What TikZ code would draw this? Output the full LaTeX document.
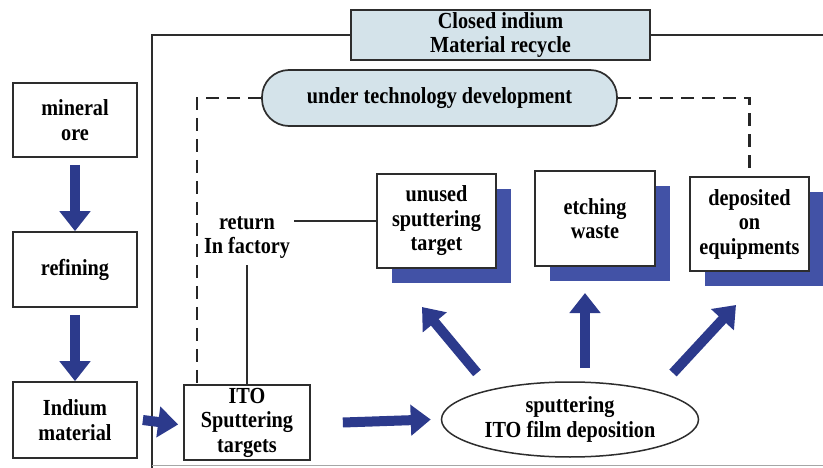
\documentclass[tikz,border=0pt]{standalone}
\usepackage{fontspec}
\setmainfont[FakeStretch=0.88]{Liberation Serif}
\usetikzlibrary{arrows.meta,shapes.geometric,shadows}
\definecolor{arrowblue}{RGB}{44,58,140}
\definecolor{shadowblue}{RGB}{66,82,166}
\definecolor{lightfill}{RGB}{212,227,234}
\definecolor{edge}{RGB}{45,45,45}
\tikzset{
  txt/.style={font=\bfseries\fontsize{23}{24.5}\selectfont, align=center, inner sep=0pt},
  box/.style={txt, draw=edge, line width=1.7pt, fill=white, rectangle},
  shbox/.style={box, general shadow={fill=shadowblue, shadow xshift=15pt, shadow yshift=-15pt}},
  fat/.style={line width=10pt, draw=arrowblue, -{Triangle[width=30pt,length=20pt]}},
  frame/.style={draw=edge, line width=1.8pt},
  dashline/.style={draw=black!85, line width=2.2pt, dash pattern=on 13pt off 8pt},
  thin/.style={draw=edge, line width=1.3pt}
}
\begin{document}
\begin{tikzpicture}[x=1pt,y=-1pt]
\useasboundingbox (0,0) rectangle (823,468);

% left column
\node[box, minimum width=124pt, minimum height=74pt] (ore) at (75,120) {mineral\\ore};
\node[box, minimum width=124pt, minimum height=75pt] (refine) at (75,269.5) {refining};
\node[box, minimum width=124pt, minimum height=76pt] (indium) at (75,420) {Indium\\material};

% frame
\node[box, fill=lightfill, minimum width=299pt, minimum height=50pt] (closed) at (500.5,35) {Closed indium\\Material recycle};
\coordinate (ftl) at (152,35);
\coordinate (fbl) at (152,468);
\coordinate (ftr) at (823,35);
\draw[frame] (closed.west) -- (ftl) -- (fbl);
\draw[frame] (closed.east) -- (ftr);
\coordinate (bl) at (152,465);
\coordinate (br) at (823,465);
\draw[draw=black!35, line width=1pt] (bl) -- (br);

% under technology development
\node[box, fill=lightfill, rounded corners=27pt, minimum width=355pt, minimum height=56pt] (utd) at (439.5,98) {under technology development};

% right part
\node[box, minimum width=126pt, minimum height=75pt] (ito) at (247,422.5) {ITO\\Sputtering\\targets};
\node[txt, draw=edge, line width=1.5pt, ellipse, minimum width=257pt, minimum height=75pt, fill=white] (film) at (570,419.5) {sputtering\\ITO film deposition};

\node[shbox, minimum width=119pt, minimum height=94pt] (unused) at (436.5,221) {unused\\sputtering\\target};
\node[shbox, minimum width=120pt, minimum height=95pt] (etch) at (595,218.5) {etching\\waste};
\node[shbox, minimum width=119pt, minimum height=94pt] (dep) at (749.5,224) {deposited\\on\\equipments};

\node[txt] (ret) at (247,237.5) {return\\In factory};

% dashed links
\coordinate (dl1) at (197,98);
\coordinate (dl2) at (197,385);
\coordinate (dr1) at (749.5,98);
\draw[dashline] (utd.west) -- (dl1) -- (dl2);
\draw[dashline] (utd.east) -- (dr1) -- (dep.north);

% return lines
\coordinate (r1) at (294,221);
\coordinate (r2) at (247,265);
\draw[thin] (r1) -- (unused.west |- r1);
\draw[thin] (ito.north) -- (r2);

% fat arrows
\draw[fat] ([yshift=-7pt]ore.south) -- (refine.north);
\draw[fat] ([yshift=-7pt]refine.south) -- (indium.north);
\draw[fat] ([xshift=5pt]indium.east) -- ([xshift=-5pt,yshift=-2pt]ito.west);
\draw[fat] ([xshift=32pt]ito.east) -- ([xshift=-10pt]film.west);

\coordinate (a1s) at (477,373);
\coordinate (a1e) at (422,307);
\coordinate (a2s) at (585,368);
\coordinate (a2e) at (585,293);
\coordinate (a3s) at (673,373);
\coordinate (a3e) at (736,305);
\draw[fat] (a1s) -- (a1e);
\draw[fat] (a2s) -- (a2e);
\draw[fat] (a3s) -- (a3e);
\end{tikzpicture}
\end{document}
